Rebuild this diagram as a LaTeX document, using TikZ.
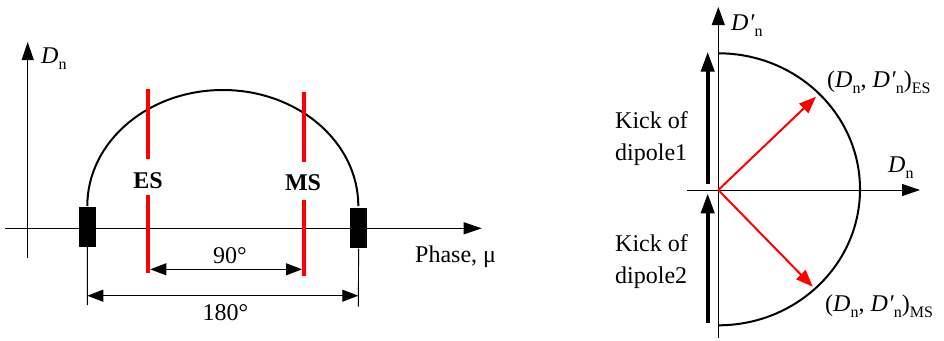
\documentclass[tikz,border=0pt]{standalone}
\usepackage{fontspec}
\setmainfont{Liberation Serif}
\usetikzlibrary{arrows.meta}
\newcommand\mysub[1]{\raisebox{-0.28em}{\fontsize{16}{16}\selectfont #1}}
\newcommand\myDn{\textit{D}\mysub{n}}
\newcommand\myDp{\textit{D\kern0.5pt\char"2032}\mysub{n}}
\tikzset{
  lbl/.style={inner sep=0pt,font=\fontsize{24}{29}\selectfont},
  axis/.style={line width=1pt,-{Triangle[length=18pt,width=12pt]}},
  thinline/.style={line width=0.9pt},
  dim/.style={line width=1pt,{Triangle[length=16pt,width=12pt]}-{Triangle[length=16pt,width=12pt]}},
  redline/.style={draw=red,line width=4pt},
  redarrow/.style={draw=red,line width=2pt,-{Triangle[length=17pt,width=13pt]},fill=red},
  kick/.style={line width=4pt,-{Triangle[length=20pt,width=13pt]}},
  curve/.style={line width=2pt},
  blockbox/.style={fill=black,draw=none,minimum width=17.3pt,minimum height=40pt,inner sep=0pt}
}
\begin{document}
\begin{tikzpicture}[x=1pt,y=-1pt]
\useasboundingbox (0,0) rectangle (944,340);
% ---------- left panel ----------
\coordinate (xs) at (5,228.3);
\coordinate (xe) at (481.7,228.3);
\coordinate (ys) at (27.7,257.7);
\coordinate (ye) at (27.7,42);
\draw[axis] (xs) -- (xe);
\draw[axis] (ys) -- (ye);
\node[lbl,anchor=base west] (dnl) at (41,63) {\myDn};
\node[lbl,anchor=base west] (phase) at (415,262) {Phase, μ};
% arc
\coordinate (al) at (87.3,206);
\coordinate (ar) at (358.3,206);
\draw[curve] (al) arc[start angle=180,end angle=360,x radius=135.5,y radius=116];
% blocks
\node[blockbox] (bl) at (87.35,226.7) {};
\node[blockbox] (br) at (358.65,228.3) {};
% extension lines
\coordinate (el) at (87.3,305);
\coordinate (er) at (358.3,306.7);
\draw[thinline] (bl.south) -- (el);
\draw[thinline] (br.south) -- (er);
% red lines
\coordinate (es1) at (148.3,89.3);
\coordinate (es2) at (148.3,159.3);
\coordinate (es3) at (148.3,195);
\coordinate (es4) at (148.3,272.7);
\coordinate (ms1) at (304,92.3);
\coordinate (ms2) at (304,161.7);
\coordinate (ms3) at (304,200);
\coordinate (ms4) at (304,276);
\draw[redline] (es1) -- (es2);
\draw[redline] (es3) -- (es4);
\draw[redline] (ms1) -- (ms2);
\draw[redline] (ms3) -- (ms4);
\node[lbl,anchor=base,font=\fontsize{24}{29}\selectfont\bfseries] (es) at (148,188.5) {ES};
\node[lbl,anchor=base,font=\fontsize{24}{29}\selectfont\bfseries] (ms) at (303,190) {MS};
% dimensions
\coordinate (d9a) at (150.3,269.3);
\coordinate (d9b) at (302,269.3);
\draw[dim] (d9a) -- (d9b);
\node[lbl,anchor=base] (n90) at (230,263.5) {90°};
\coordinate (d18a) at (87.3,295.7);
\coordinate (d18b) at (358.3,295.7);
\draw[dim] (d18a) -- (d18b);
\node[lbl,anchor=base] (n180) at (225.5,320) {180°};
% ---------- right panel ----------
\coordinate (o) at (718.3,190);
\coordinate (vs) at (718.3,338);
\coordinate (ve) at (718.3,7);
\coordinate (hs) at (686.7,190);
\coordinate (he) at (920,190);
\draw[thinline] (vs) -- (o);
\draw[axis,line width=0.9pt,-{Triangle[length=18pt,width=13pt]}] (o) -- (ve);
\draw[axis,line width=0.9pt] (hs) -- (he);
\node[lbl,anchor=base west] (dpt) at (731,30) {\myDp};
\node[lbl,anchor=base west] (dnr) at (888,172) {\myDn};
% semicircle
\coordinate (ct) at (718.3,53.3);
\draw[curve] (ct) arc[start angle=-90,end angle=90,x radius=141.7,y radius=136];
% red arrows
\coordinate (tes) at (816,96.7);
\coordinate (tms) at (812.7,286.7);
\draw[redarrow] (o) -- (tes);
\draw[redarrow] (o) -- (tms);
\node[lbl,anchor=base west] (les) at (827,87) {(\myDn, \myDp)\mysub{ES}};
\node[lbl,anchor=base west] (lms) at (825,311) {(\myDn, \myDp)\mysub{MS}};
% kicks
\coordinate (k1s) at (707.7,184);
\coordinate (k1e) at (707.7,51.7);
\coordinate (k2s) at (707.7,323);
\coordinate (k2e) at (707.7,193.3);
\draw[kick] (k1s) -- (k1e);
\draw[kick] (k2s) -- (k2e);
\node[lbl,anchor=base west] (k1a) at (615,128.3) {Kick of};
\node[lbl,anchor=base west] (k1b) at (615,160) {dipole1};
\node[lbl,anchor=base west] (k2a) at (615,251.7) {Kick of};
\node[lbl,anchor=base west] (k2b) at (615,283.3) {dipole2};
\end{tikzpicture}
\end{document}
